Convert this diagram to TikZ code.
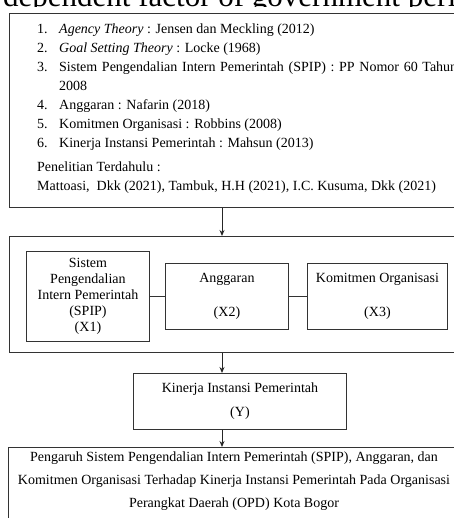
\documentclass[tikz,border=0pt]{standalone}
\usepackage{fontspec}
\setmainfont{Liberation Serif}
\usetikzlibrary{calc, positioning, arrows.meta}

\begin{document}
\begin{tikzpicture}[x=1pt, y=-1pt, font=\fontsize{14}{16}\selectfont,
    frame/.style={draw=black!80, line width=0.9pt, inner sep=0pt, anchor=north west},
    box/.style={draw=black!80, line width=0.9pt, inner sep=0pt, align=center, anchor=north west},
    item/.style={anchor=base west, inner sep=0pt},
    arr/.style={draw=black!85, line width=0.9pt, -{Stealth[length=6pt, width=5pt]}}]
    \useasboundingbox (0,0) rectangle (453,518);
    %cut off heading above the figure
    \begin{scope}
        \clip (0,0) rectangle (453,7);
        \node[item, font=\fontsize{31}{31}\selectfont] (kepala) at (3,6.5) {dependent factor of government performance};
    \end{scope}
    %Landasan teori
    \node[frame, minimum width=470pt, minimum height=194pt] (teori) at (9,13) {};
    \foreach \n/\y/\t in {1/34/{\textit{Agency Theory} : Jensen dan Meckling (2012)},
                          2/53/{\textit{Goal Setting Theory} : Locke (1968)},
                          3/72/{\makebox[398pt][s]{Sistem Pengendalian Intern Pemerintah (SPIP) : PP Nomor 60 Tahun}},
                          4/110/{Anggaran : Nafarin (2018)},
                          5/129/{Komitmen Organisasi : Robbins (2008)},
                          6/148/{Kinerja Instansi Pemerintah : Mahsun (2013)}}
        {
        \node[item] (no\n) at (37,\y) {\n.};
        \node[item] (teks\n) at (59,\y) {\t};
        }
    \node[item] (teks3b) at (59,91) {2008};
    \node[item] (terdahulu) at (37,172) {Penelitian Terdahulu :};
    \node[item] (peneliti) at (37,191) {Mattoasi,\ \ Dkk (2021), Tambuk, H.H (2021), I.C. Kusuma, Dkk (2021)};
    %Variabel
    \node[frame, minimum width=470pt, minimum height=116pt] (variabel) at (9,236) {};
    \node[box, minimum width=123pt, minimum height=90pt] (x1) at (26,251) {Sistem\\ Pengendalian\\ Intern Pemerintah\\ (SPIP)\\ (X1)};
    \node[box, minimum width=123pt, minimum height=66pt] (x2) at (165,263) {Anggaran\\[18pt] (X2)};
    \node[box, minimum width=140pt, minimum height=66pt] (x3) at (307,263) {Komitmen Organisasi\\[18pt] (X3)};
    \draw[draw=black!80, line width=0.9pt] (x1) -- (x2);
    \draw[draw=black!80, line width=0.9pt] (x2) -- (x3);
    \node[box, minimum width=213pt, minimum height=56pt] (y) at (133,373) {Kinerja Instansi Pemerintah\\[8pt] (Y)};
    %Judul penelitian
    \node[frame, minimum width=470pt, minimum height=100pt] (judul) at (8,447) {};
    \node[anchor=north, inner sep=0pt, align=center] (judulteks) at (234,452) {Pengaruh Sistem Pengendalian Intern Pemerintah (SPIP), Anggaran, dan\\[7pt]
        Komitmen Organisasi Terhadap Kinerja Instansi Pemerintah Pada Organisasi\\[7pt]
        Perangkat Daerah (OPD) Kota Bogor};
    %arrows
    \coordinate (poros) at (222,0);
    \draw[arr] (teori.south -| poros) -- (variabel.north -| poros);
    \draw[arr] (variabel.south -| poros) -- (y.north -| poros);
    \draw[arr] (y.south -| poros) -- (judul.north -| poros);
\end{tikzpicture}
\end{document}
